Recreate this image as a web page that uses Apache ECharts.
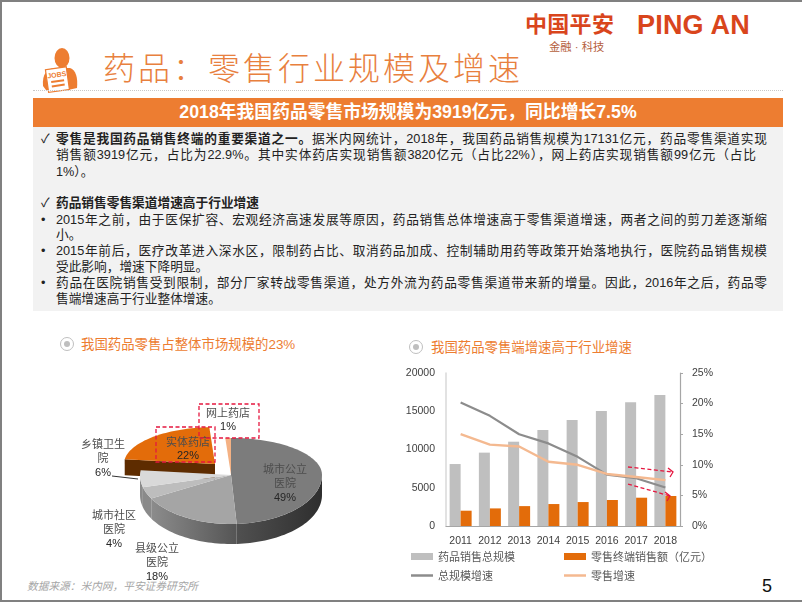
<!DOCTYPE html>
<html>
<head>
<meta charset="utf-8">
<script src="https://cdn.jsdelivr.net/npm/echarts@6/dist/echarts.min.js"></script>
<style>
  html, body { margin: 0; padding: 0; background: #fff; }
  body { width: 802px; height: 602px; overflow: hidden; position: relative;
    font-family: "Liberation Sans", "Noto Sans CJK SC", sans-serif; }
  .abs { position: absolute; white-space: nowrap; }
  .border-t { left: 0; top: 0; width: 802px; height: 2px; background: #808080; }
  .border-l { left: 0; top: 0; width: 2px; height: 602px; background: #808080; }
  .border-b { left: 0; top: 600px; width: 802px; height: 2px; background: #808080; }
  .panel { left: 33px; top: 127px; width: 750px; height: 184px; background: #f2f2f2; }
  .bar { left: 33px; top: 98px; width: 750px; height: 29px; line-height: 28px; background: #ED7D31;
    color: #fff; font-size: 17.8px; font-weight: bold; text-align: center; }
  .dots { left: 33px; top: 90px; width: 750px; border-top: 1px dotted #c8c8c8; }
  .title { left: 103px; top: 47px; font-size: 32px; line-height: 44px; letter-spacing: 3px; color: #E8803E; font-weight: 300; }
  .line { left: 56px; font-size: 12.7px; line-height: 16px; color: #222; width: 711px; }
  .just { white-space: normal; text-align: justify; text-align-last: justify; }
  .mark { left: 41px; font-size: 12.7px; line-height: 16px; color: #222; }
  .sec { font-size: 13.4px; line-height: 18px; color: #ED7D31; }
  .ring { width: 12px; height: 12px; border: 1.5px solid #bfbfbf; border-radius: 50%; }
  .ring i { position: absolute; left: 3px; top: 3px; width: 6px; height: 6px; border-radius: 50%; background: #bfbfbf; }
  #chart { position: absolute; left: 0; top: 0; width: 802px; height: 602px; }
</style>
</head>
<body>
<div class="abs border-t"></div>
<div class="abs border-l"></div>
<div class="abs border-b"></div>

<div class="abs" style="left:525px;top:11px;font-size:22px;line-height:28px;font-weight:bold;color:#D9451C;letter-spacing:0.3px">中国平安</div>
<div class="abs" style="left:637px;top:10px;font-size:27px;line-height:30px;color:#D9451C;font-weight:bold;letter-spacing:0.2px;font-family:'Liberation Sans'">PING AN</div>
<div class="abs" style="left:549px;top:40px;font-size:11.3px;line-height:14px;color:#B5603C">金融 · 科技</div>

<svg class="abs" style="left:38px;top:46px" width="44" height="48" viewBox="0 0 44 48">
  <ellipse cx="24" cy="12" rx="7.5" ry="10" fill="#ED7D31"/>
  <path d="M5 40 C4 28 9 23 16 22 L32 22 C38 24 40 32 39 42 L30 44 L8 44 Z" fill="#ED7D31"/>
  <g transform="rotate(-8 20 34)">
    <rect x="9" y="22" width="21" height="23" fill="#fff" stroke="#ED7D31" stroke-width="1.2"/>
    <text x="19.5" y="31" font-size="7" font-weight="bold" fill="#ED7D31" text-anchor="middle" font-family="Liberation Sans">JOBS</text>
    <rect x="13" y="34" width="13" height="2" fill="#ED7D31"/>
    <rect x="13" y="38.5" width="13" height="2" fill="#ED7D31"/>
  </g>
</svg>
<div class="abs title">药品：零售行业规模及增速</div>
<div class="abs dots"></div>
<div class="abs bar">2018年我国药品零售市场规模为3919亿元，同比增长7.5%</div>
<div class="abs panel"></div>

<div class="abs mark" style="top:131px">✓</div>
<div class="abs line just" style="top:131px"><b>零售是我国药品销售终端的重要渠道之一。</b>据米内网统计，2018年，我国药品销售规模为17131亿元，药品零售渠道实现</div>
<div class="abs line just" style="top:147px;width:700px">销售额3919亿元，占比为22.9%。其中实体药店实现销售额3820亿元（占比22%），网上药店实现销售额99亿元（占比</div>
<div class="abs line" style="top:164px">1%）。</div>
<div class="abs mark" style="top:195px">✓</div>
<div class="abs line" style="top:195px"><b>药品销售零售渠道增速高于行业增速</b></div>
<div class="abs mark" style="top:212px">•</div>
<div class="abs line just" style="top:212px">2015年之前，由于医保扩容、宏观经济高速发展等原因，药品销售总体增速高于零售渠道增速，两者之间的剪刀差逐渐缩</div>
<div class="abs line" style="top:227px">小。</div>
<div class="abs mark" style="top:243px">•</div>
<div class="abs line just" style="top:243px">2015年前后，医疗改革进入深水区，限制药占比、取消药品加成、控制辅助用药等政策开始落地执行，医院药品销售规模</div>
<div class="abs line" style="top:259px">受此影响，增速下降明显。</div>
<div class="abs mark" style="top:275px">•</div>
<div class="abs line just" style="top:275px">药品在医院销售受到限制，部分厂家转战零售渠道，处方外流为药品零售渠道带来新的增量。因此，2016年之后，药品零</div>
<div class="abs line" style="top:291px">售端增速高于行业整体增速。</div>

<div class="abs ring" style="left:60px;top:337px"><i></i></div>
<div class="abs sec" style="left:81px;top:336px">我国药品零售占整体市场规模的23%</div>
<div class="abs ring" style="left:409px;top:340px"><i></i></div>
<div class="abs sec" style="left:431px;top:339px">我国药品零售端增速高于行业增速</div>

<div class="abs" style="left:27px;top:579px;font-size:10.7px;line-height:14px;font-style:italic;color:#a6a6a6">数据来源：米内网，平安证券研究所</div>
<div class="abs" style="left:762px;top:576px;font-size:18px;line-height:20px;color:#111">5</div>

<div id="chart"></div>

<script>
// bar + line chart
const years = ['2011', '2012', '2013', '2014', '2015', '2016', '2017', '2018']
const totalSales = [8100, 9590, 11020, 12550, 13850, 15030, 16170, 17131]
const retailSales = [2000, 2300, 2600, 2870, 3130, 3400, 3700, 3919]
const totalGrowth = [20.2, 18, 15, 13.5, 11.3, 8.4, 7.8, 6.3]
const retailGrowth = [15, 13.3, 13, 10.5, 10, 8.5, 8, 7.5]

// pie, clockwise from 12 o'clock
const sliceNames = ['城市公立\n医院', '县级公立\n医院', '城市社区\n医院', '乡镇卫生\n院', '实体药店', '网上药店']
const sliceValues = [49, 18, 4, 6, 22, 1]

// pie look, same order as the slices
const sliceTops = ['#7c7c7c', '#a5a5a5', '#bdbdbd', '#d9d9d9', '#E36C0A', '#F4B183']
const sliceSides = [
  ['#2e2e2e', '#505050'],
  ['#555555', '#8c8c8c'],
  ['#8a8a8a', '#8a8a8a'],
  ['#8a8a8a', '#8a8a8a'],
  ['#5e2c00', '#5e2c00'],
  ['#c98a5a', '#c98a5a']
]
const sliceShift = [[0, 0], [0, 0], [0, 0], [0, 0], [-16, -11], [0, 0]]
const labelAnchors = [[285, 483], [157, 562], [114, 529], [103, 458], [188, 449], [228, 420]]

const pie = { cx: 231, cy: 475, rx: 91, ryUp: 37, ryDown: 49, depth: 20, cutDepth: 16 }
const sumValues = sliceValues.reduce((a, b) => a + b, 0)

const rimPoint = (deg, dx, dy) => {
  const a = deg * Math.PI / 180
  const c = Math.cos(a)
  return [pie.cx + dx + pie.rx * Math.sin(a), pie.cy + dy - (c >= 0 ? pie.ryUp : pie.ryDown) * c]
}

const arcPoints = (from, to, dx, dy) => {
  const pts = []
  for (let d = from; d < to; d += 2) pts.push(rimPoint(d, dx, dy))
  pts.push(rimPoint(to, dx, dy))
  return pts
}

const renderSlice = (params) => {
  const i = params.dataIndex
  const start = sliceValues.slice(0, i).reduce((a, b) => a + b, 0) / sumValues * 360
  const end = start + sliceValues[i] / sumValues * 360
  const [dx, dy] = sliceShift[i]
  const z = dx ? 1 : 5
  const children = []
  const apex = [pie.cx + dx, pie.cy + dy]

  // outer wall, only the front half can be seen
  const a = Math.max(start, 90)
  const b = Math.min(end, 270)
  if (b > a) {
    const upper = arcPoints(a, b, dx, dy)
    const lower = upper.map(p => [p[0], p[1] + pie.depth]).reverse()
    children.push({
      type: 'polygon',
      z2: z,
      shape: { points: upper.concat(lower) },
      style: {
        fill: new echarts.graphic.LinearGradient(1, 0, 0, 0, [
          { offset: 0, color: sliceSides[i][0] },
          { offset: 1, color: sliceSides[i][1] }
        ])
      }
    })
  }
  // cut wall of the pulled out slice
  if (dx) {
    const corner = rimPoint(start, dx, dy)
    children.push({
      type: 'polygon',
      z2: z,
      shape: { points: [corner, apex, [apex[0], apex[1] + pie.cutDepth], [corner[0], corner[1] + pie.cutDepth]] },
      style: { fill: sliceSides[i][0] }
    })
  }
  children.push({
    type: 'polygon',
    z2: z + 1,
    shape: { points: [apex].concat(arcPoints(start, end, dx, dy)) },
    style: { fill: sliceTops[i] }
  })
  children.push({
    type: 'text',
    z2: 20,
    x: labelAnchors[i][0],
    y: labelAnchors[i][1],
    style: {
      text: '{n|' + sliceNames[i].replace('\n', '}\n{n|') + '}\n{p|' + sliceValues[i] + '%}',
      align: 'center',
      verticalAlign: 'middle',
      rich: {
        n: { fontSize: 11, lineHeight: 14.5, fill: '#4d4d4d', fontFamily: 'Noto Sans CJK SC' },
        p: { fontSize: 11, lineHeight: 14.5, fill: '#262626', fontFamily: 'Liberation Sans' }
      }
    }
  })
  return { type: 'group', children }
}

const dashed = { stroke: '#E5173F', lineWidth: 1.3, lineDash: [4, 2.5], fill: null }
const arrow = (x1, y1, x2, y2) => [
  { type: 'line', z: 20, shape: { x1, y1, x2, y2 }, style: dashed },
  { type: 'polyline', z: 20, shape: { points: [[x2 - 5, y2 - 4], [x2, y2], [x2 - 3, y2 + 5]] }, style: { stroke: '#E5173F', lineWidth: 1.3, fill: null } }
]

const chart = echarts.init(document.getElementById('chart'), null, { width: 802, height: 602 })
const chartFont = { fontFamily: 'Liberation Sans', fontSize: 10.5, color: '#404040' }
const legendText = { fontFamily: 'Noto Sans CJK SC', fontSize: 11, color: '#595959' }
const legendBox = (left, top, name) => ({ left, top, padding: 0, itemWidth: 22, itemHeight: 7, icon: 'rect', textStyle: legendText, data: [name] })
const legendLine = (left, top, name) => ({ left, top, padding: 0, itemWidth: 22, itemHeight: 2.5, icon: 'rect', textStyle: legendText, data: [name] })

chart.setOption({
  animation: false,
  backgroundColor: 'transparent',
  grid: { left: 446, top: 373, width: 234, height: 153, containLabel: false },
  legend: [
    legendBox(411, 551, '药品销售总规模'),
    legendBox(564, 551, '零售终端销售额（亿元）'),
    legendLine(411, 570, '总规模增速'),
    legendLine(564, 570, '零售增速')
  ],
  xAxis: {
    type: 'category',
    data: years,
    axisLine: { lineStyle: { color: '#a6a6a6', width: 1.2 } },
    axisTick: { show: false },
    axisLabel: { ...chartFont, margin: 10, interval: 0 }
  },
  yAxis: [
    {
      type: 'value', min: 0, max: 20000, interval: 5000,
      splitLine: { show: false },
      axisLine: { show: true, lineStyle: { color: '#d9d9d9', width: 1.5 } },
      axisTick: { show: false },
      axisLabel: { ...chartFont, margin: 11, formatter: v => String(v) }
    },
    {
      type: 'value', min: 0, max: 25, interval: 5,
      splitLine: { show: false },
      axisLine: { show: true, lineStyle: { color: '#a6a6a6', width: 1.2 } },
      axisTick: { show: true, length: 3, lineStyle: { color: '#a6a6a6' } },
      axisLabel: { ...chartFont, margin: 12, formatter: '{value}%' }
    }
  ],
  series: [
    { name: '药品销售总规模', type: 'bar', data: totalSales, barWidth: 11, barGap: 0, itemStyle: { color: '#bfbfbf' } },
    { name: '零售终端销售额（亿元）', type: 'bar', data: retailSales, barWidth: 11, barGap: 0, itemStyle: { color: '#E36C0A' } },
    { name: '总规模增速', type: 'line', yAxisIndex: 1, data: totalGrowth, symbol: 'none', z: 4, lineStyle: { color: '#8c8c8c', width: 2.2 }, itemStyle: { color: '#8c8c8c' } },
    { name: '零售增速', type: 'line', yAxisIndex: 1, data: retailGrowth, symbol: 'none', z: 5, lineStyle: { color: '#F4B990', width: 2.4 }, itemStyle: { color: '#F4B990' } },
    { name: '市场结构', type: 'custom', coordinateSystem: 'none', data: sliceValues, renderItem: renderSlice, silent: true, z: 6 }
  ],
  graphic: [
    { type: 'rect', z: 20, shape: { x: 156, y: 427, width: 59, height: 35 }, style: dashed },
    { type: 'rect', z: 20, shape: { x: 199, y: 404, width: 60, height: 34 }, style: dashed },
    { type: 'line', z: 20, shape: { x1: 112, y1: 476, x2: 138, y2: 479 }, style: { stroke: '#333', lineWidth: 1 } },
    ...arrow(628, 467, 673, 472),
    ...arrow(628, 484, 670, 496)
  ]
})
</script>
</body>
</html>
